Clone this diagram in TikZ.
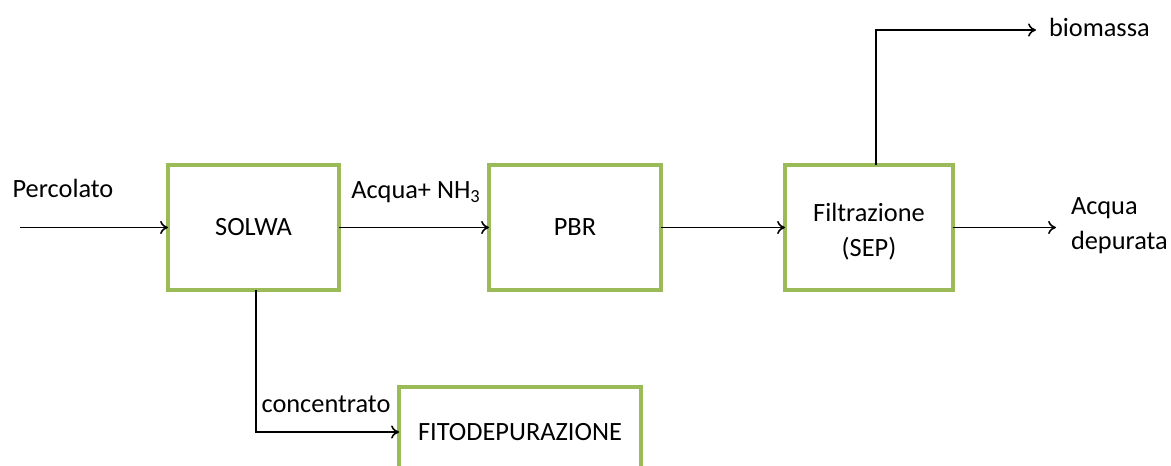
\documentclass[tikz,border=0pt]{standalone}
\usepackage{fontspec}
\setmainfont{Carlito}
\usetikzlibrary{arrows.meta}
\definecolor{verde}{RGB}{155,187,89}

\begin{document}
\begin{tikzpicture}[x=0.02cm,y=-0.02cm,
    every node/.style={font=\fontsize{15}{18}\selectfont, inner sep=0pt, outer sep=0pt},
    blocco/.style={draw=verde, line width=2.2pt, minimum height=2.5cm, align=center},
    flusso/.style={-{To[length=4.5pt,width=7.5pt]}, line width=0.9pt}]
    \useasboundingbox (0,0) rectangle (1171,466);

    % blocchi
    \node[blocco, minimum width=3.42cm] (solwa) at (253.5,227.5) {SOLWA};
    \node[blocco, minimum width=3.44cm] (pbr) at (575,227.5) {PBR};
    \node[blocco, minimum width=3.36cm] (filtr) at (869,227.5)
        {\raisebox{-0.08cm}[\height][\depth]{Filtrazione}\\[0.07cm]\raisebox{-0.08cm}[\height][\depth]{(SEP)}};
    \node[blocco, minimum width=4.84cm, minimum height=1.8cm] (fito) at (520,432) {FITODEPURAZIONE};

    % estremi liberi
    \coordinate (ingresso) at (20,227.5);
    \coordinate (uscita) at (1056,227.5);
    \coordinate (bio) at (1036,30);

    % etichette
    \node (percolato) at (63,188) {Percolato};
    \node (acqua) at (416,192) {Acqua+ NH\textsubscript{3}};
    \node (conc) at (326,404) {concentrato};
    \node[anchor=west] (biomassa) at (1049,27) {biomassa};
    \node[anchor=west, align=left] (depurata) at (1071,226) {Acqua\\[0.07cm]depurata};

    % flussi
    \draw[flusso] (ingresso) -- (solwa);
    \draw[flusso] (solwa) -- (pbr);
    \draw[flusso] (pbr) -- (filtr);
    \draw[flusso] (filtr) -- (uscita);
    \draw[flusso] ([xshift=0.14cm]filtr.north) |- (bio);
    \draw[flusso] ([xshift=0.05cm]solwa.south) |- (fito);
\end{tikzpicture}
\end{document}
